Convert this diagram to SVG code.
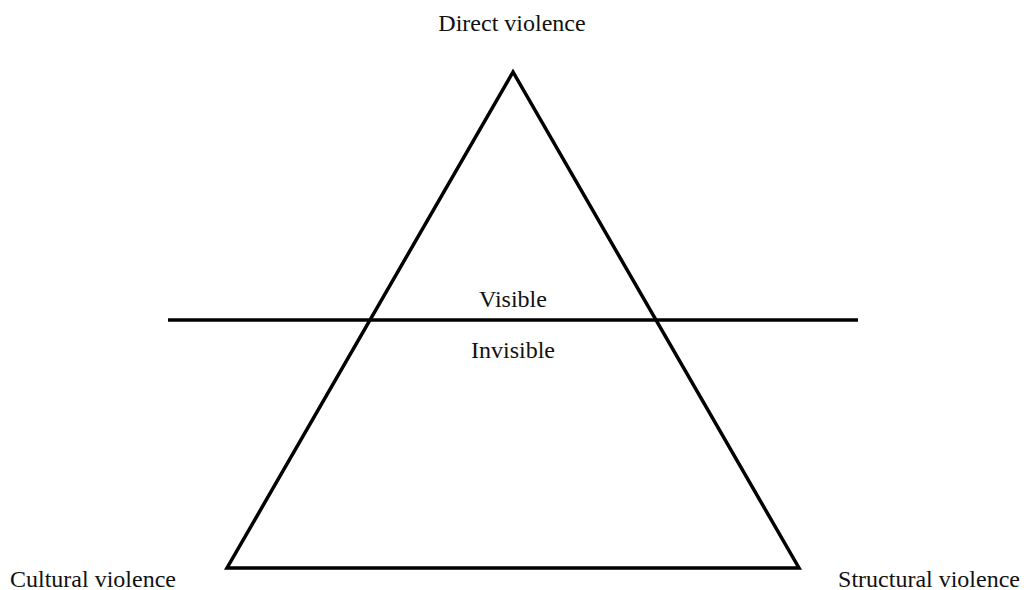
<svg xmlns="http://www.w3.org/2000/svg" width="1024" height="590" viewBox="0 0 1024 590">
<style>
text{font-family:"Liberation Serif","Times New Roman",serif;font-size:24px;fill:#111}
.ln{stroke:#000;stroke-width:3.5;fill:none}
</style>
<rect width="1024" height="590" fill="#fff"/>
<g id="connectors">
<polygon id="triangle" class="ln" points="513,72 227,568 799,568"/>
<line class="ln" x1="168" y1="320" x2="858" y2="320"/>
</g>
<g id="direct"><text x="512" y="31" text-anchor="middle">Direct violence</text></g>
<g id="visible"><text x="513" y="307" text-anchor="middle">Visible</text></g>
<g id="invisible"><text x="513" y="358" text-anchor="middle">Invisible</text></g>
<g id="cultural"><text x="10" y="587">Cultural violence</text></g>
<g id="structural"><text x="1020" y="587" text-anchor="end">Structural violence</text></g>
</svg>
